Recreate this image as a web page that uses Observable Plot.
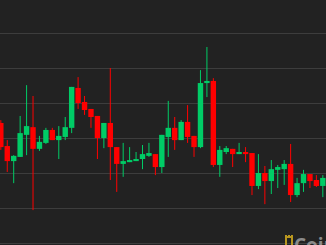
<!DOCTYPE html>
<html>
<head>
<meta charset="utf-8">
<script src="https://cdn.jsdelivr.net/npm/d3@7"></script>
<script src="https://cdn.jsdelivr.net/npm/@observablehq/plot@0.6"></script>
<style>
  html, body { margin: 0; padding: 0; background: #222222; overflow: hidden; }
  #wrap { position: relative; width: 326px; height: 245px; overflow: hidden; }
  #logo { position: absolute; left: 285px; top: 234px; display: flex; align-items: flex-start; gap: 1px; }
  #logo span { font-family: "Open Sans", sans-serif; font-weight: 700; font-size: 19px; color: #8a8a8a; line-height: 1; margin-top: 2px; }
</style>
</head>
<body>
<div id="wrap">
  <div id="chart"></div>
  <div id="logo">
    <svg width="8" height="12"><g fill="#b8961f"><rect x="0" y="2" width="8" height="2"/><rect x="0" y="2" width="2" height="10"/><rect x="6" y="2" width="2" height="10"/><rect x="0" y="1" width="2" height="2"/><rect x="3" y="1" width="2" height="2"/><rect x="6" y="1" width="2" height="2"/></g></svg>
    <span>CoinDesk</span>
  </div>
</div>
<script>
const opens  = [6543,6477,6434,6446,6509,6531,6469,6486,6523,6494,6503,6529,6643,6603,6583,6563,6500,6543,6474,6426,6431,6434,6440,6449,6454,6417,6503,6529,6494,6546,6506,6474,6657,6663,6423,6460,6469,6454,6460,6457,6363,6400,6377,6409,6411,6426,6337,6371,6397,6380,6363,6386];
const highs  = [6551,6494,6451,6563,6651,6620,6506,6529,6529,6534,6560,6646,6674,6620,6583,6563,6543,6700,6474,6486,6474,6460,6480,6486,6454,6509,6606,6560,6551,6594,6506,6694,6760,6671,6477,6477,6469,6486,6474,6457,6454,6420,6437,6423,6437,6483,6386,6409,6397,6394,6394,6449];
const lows   = [6466,6403,6371,6446,6451,6294,6463,6483,6494,6440,6494,6514,6583,6566,6529,6440,6471,6380,6346,6389,6431,6434,6411,6446,6394,6400,6446,6466,6494,6486,6446,6471,6617,6417,6389,6454,6417,6454,6431,6337,6354,6311,6340,6357,6366,6317,6331,6346,6357,6360,6331,6380];
const closes = [6474,6434,6449,6514,6534,6469,6489,6523,6494,6506,6531,6646,6600,6580,6560,6500,6543,6474,6426,6434,6437,6440,6454,6457,6417,6509,6529,6494,6546,6503,6474,6657,6663,6423,6466,6471,6454,6460,6454,6363,6400,6377,6411,6417,6426,6337,6371,6397,6377,6363,6386,6420];
const gridLevels = [6200,6300,6400,6500,6600,6700,6800];

const candles = opens.map((o, i) => ({i, open: o, high: highs[i], low: lows[i], close: closes[i]}));
const colorOf = d => d.close >= d.open ? "#00cc66" : "#ff0000";

const chart = Plot.plot({
  width: 326,
  height: 245,
  margin: 0,
  style: {background: "#222222"},
  x: {type: "linear", domain: [-0.05, 50.57], axis: null},
  y: {domain: [6194.3, 6894.3], axis: null},
  marks: [
    Plot.ruleY(gridLevels, {stroke: "#3d3d3d", strokeWidth: 1}),
    Plot.ruleX(candles, {x: "i", y1: "low", y2: "high", stroke: colorOf, strokeWidth: 1}),
    Plot.ruleX(candles, {x: "i", y1: "open", y2: "close", stroke: colorOf, strokeWidth: 5.4})
  ]
});
document.getElementById("chart").appendChild(chart);
</script>
</body>
</html>
